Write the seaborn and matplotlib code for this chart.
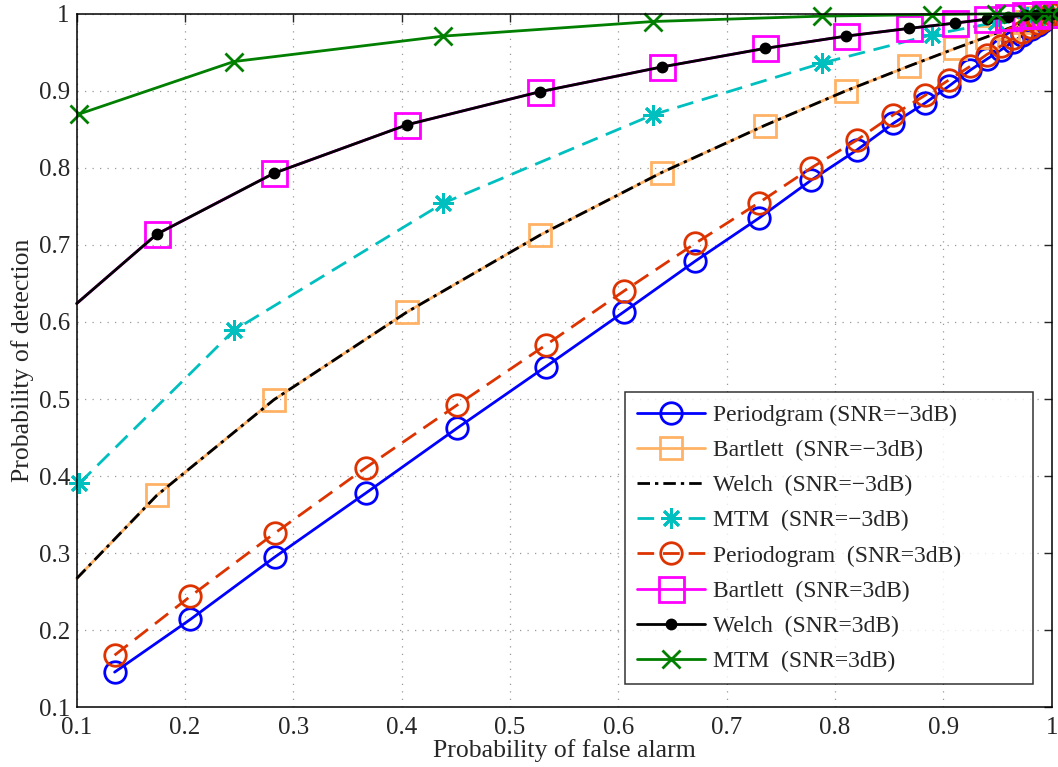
import numpy as np
import pandas as pd
import seaborn as sns
import matplotlib
matplotlib.use("Agg")
import matplotlib.pyplot as plt

# Periodogram: same Pfa for both SNRs
pfa_periodogram = [0.135, 0.205, 0.283, 0.367, 0.451, 0.533, 0.605, 0.671, 0.730, 0.778,
                   0.820, 0.854, 0.883, 0.905, 0.925, 0.940, 0.953, 0.964, 0.973, 0.981,
                   0.987, 0.992, 0.996, 1.0]
pd_periodogram_m3 = [0.1455, 0.214, 0.295, 0.378, 0.462, 0.542, 0.613, 0.679, 0.735, 0.784,
                     0.823, 0.858, 0.884, 0.906, 0.927, 0.941, 0.953, 0.963, 0.972, 0.980,
                     0.986, 0.991, 0.996, 1.0]
pd_periodogram_p3 = [0.1675, 0.244, 0.326, 0.411, 0.492, 0.570, 0.640, 0.702, 0.755, 0.800,
                     0.836, 0.869, 0.894, 0.914, 0.932, 0.947, 0.958, 0.968, 0.976, 0.983,
                     0.988, 0.992, 0.996, 1.0]

# Bartlett / Welch (curves overlap)
pfa_bartlett = [0.1, 0.174, 0.282, 0.405, 0.528, 0.640, 0.735, 0.810, 0.868, 0.911,
                0.940, 0.960, 0.975, 0.986, 0.994, 1.0]
pd_bartlett_m3 = [0.267, 0.375, 0.499, 0.613, 0.713, 0.794, 0.855, 0.900, 0.932, 0.955,
                  0.970, 0.981, 0.989, 0.994, 0.998, 1.0]
pd_bartlett_p3 = [0.624, 0.714, 0.793, 0.856, 0.899, 0.931, 0.955, 0.971, 0.981, 0.988,
                  0.993, 0.996, 0.998, 0.999, 1.0, 1.0]
pfa_welch = pfa_bartlett
pd_welch_m3 = pd_bartlett_m3
pd_welch_p3 = pd_bartlett_p3

# MTM
pfa_mtm = [0.1024, 0.245, 0.438, 0.632, 0.788, 0.890, 0.949, 0.977, 0.993, 1.0]
pd_mtm_m3 = [0.3905, 0.589, 0.754, 0.869, 0.936, 0.973, 0.989, 0.996, 0.999, 1.0]
pd_mtm_p3 = [0.870, 0.938, 0.971, 0.990, 0.997, 0.999, 1.0, 1.0, 1.0, 1.0]

labels = ["Periodgram (SNR=\u22123dB)", "Bartlett  (SNR=\u22123dB)", "Welch  (SNR=\u22123dB)",
          "MTM  (SNR=\u22123dB)", "Periodogram  (SNR=3dB)", "Bartlett  (SNR=3dB)",
          "Welch  (SNR=3dB)", "MTM  (SNR=3dB)"]
xticks = [0.1, 0.2, 0.3, 0.4, 0.5, 0.6, 0.7, 0.8, 0.9, 1.0]
yticks = [0.1, 0.2, 0.3, 0.4, 0.5, 0.6, 0.7, 0.8, 0.9, 1.0]

sns.set_style("white")
plt.rcParams['font.family'] = ['Liberation Serif', 'DejaVu Serif']

fig = plt.figure(figsize=(10.58, 7.67), dpi=100)
ax = fig.add_axes([0.0725, 0.078, 0.9215, 0.904])

asterisk = (8, 2, 0)  # matlab-style '*'
series = [
    (pfa_periodogram, pd_periodogram_m3, dict(color="#0000FF", ls="-", marker="o", ms=15.5, mfc="none")),
    (pfa_bartlett, pd_bartlett_m3, dict(color="#FFB266", ls="-", marker="s", ms=15.5, mfc="none", markevery=slice(1, None))),
    (pfa_welch, pd_welch_m3, dict(color="black", ls=(0, (4.5, 1.8, 1.2, 1.8)), marker=None)),
    (pfa_mtm, pd_mtm_m3, dict(color="#00BFBF", ls=(0, (6, 3.2)), marker=asterisk, ms=15, mfc="none")),
    (pfa_periodogram, pd_periodogram_p3, dict(color="#DD3300", ls=(0, (6, 3.2)), marker="o", ms=15.5, mfc="none")),
    (pfa_bartlett, pd_bartlett_p3, dict(color="#FF00FF", ls="-", marker="s", ms=18, mfc="none", markevery=slice(1, None))),
    (pfa_welch, pd_welch_p3, dict(color="black", ls="-", marker="o", ms=6.5, mfc="black", markevery=slice(1, None))),
    (pfa_mtm, pd_mtm_p3, dict(color="#007F00", ls="-", marker="x", ms=13, mfc="none")),
]

for (xs, ys, st), lab in zip(series, labels):
    df = pd.DataFrame({"pfa": xs, "pd": ys})
    color = st.pop("color")
    ls = st.pop("ls")
    sns.lineplot(data=df, x="pfa", y="pd", ax=ax, estimator=None, sort=False,
                 color=color, linestyle=ls, linewidth=2.0, label=lab,
                 markeredgecolor=color, markeredgewidth=2.0, clip_on=False, **st)

ax.set_xlim(0.1, 1.0)
ax.set_ylim(0.1, 1.0)
ax.set_xticks(xticks)
ax.set_yticks(yticks)
ax.set_xticklabels([f"{v:g}" for v in xticks])
ax.set_yticklabels([f"{v:g}" for v in yticks])
ax.grid(True, color="#999999", linestyle=(0, (1, 5)), linewidth=0.9)
ax.tick_params(direction="in", length=6, width=1, labelsize=18, top=True, right=True, pad=5)
ax.tick_params(axis="x", pad=7)
for s in ax.spines.values():
    s.set_visible(True)
    s.set_color("black")
    s.set_linewidth(1.1)

ax.set_xlabel("Probability of false alarm", fontsize=18.5, labelpad=0)
ax.set_ylabel("Probability of detection", fontsize=18.5, labelpad=3)

leg = ax.legend(loc="lower left", bbox_to_anchor=(0.5624, 0.0332, 0.4184, 0.3), mode="expand",
                borderaxespad=0, fontsize=17, frameon=True, fancybox=False, edgecolor="black",
                handlelength=2.88, handletextpad=0.34, numpoints=1, labelspacing=0.58,
                borderpad=0.5)
leg.get_frame().set_linewidth(1.1)

fig.savefig("out.png", dpi=100)
